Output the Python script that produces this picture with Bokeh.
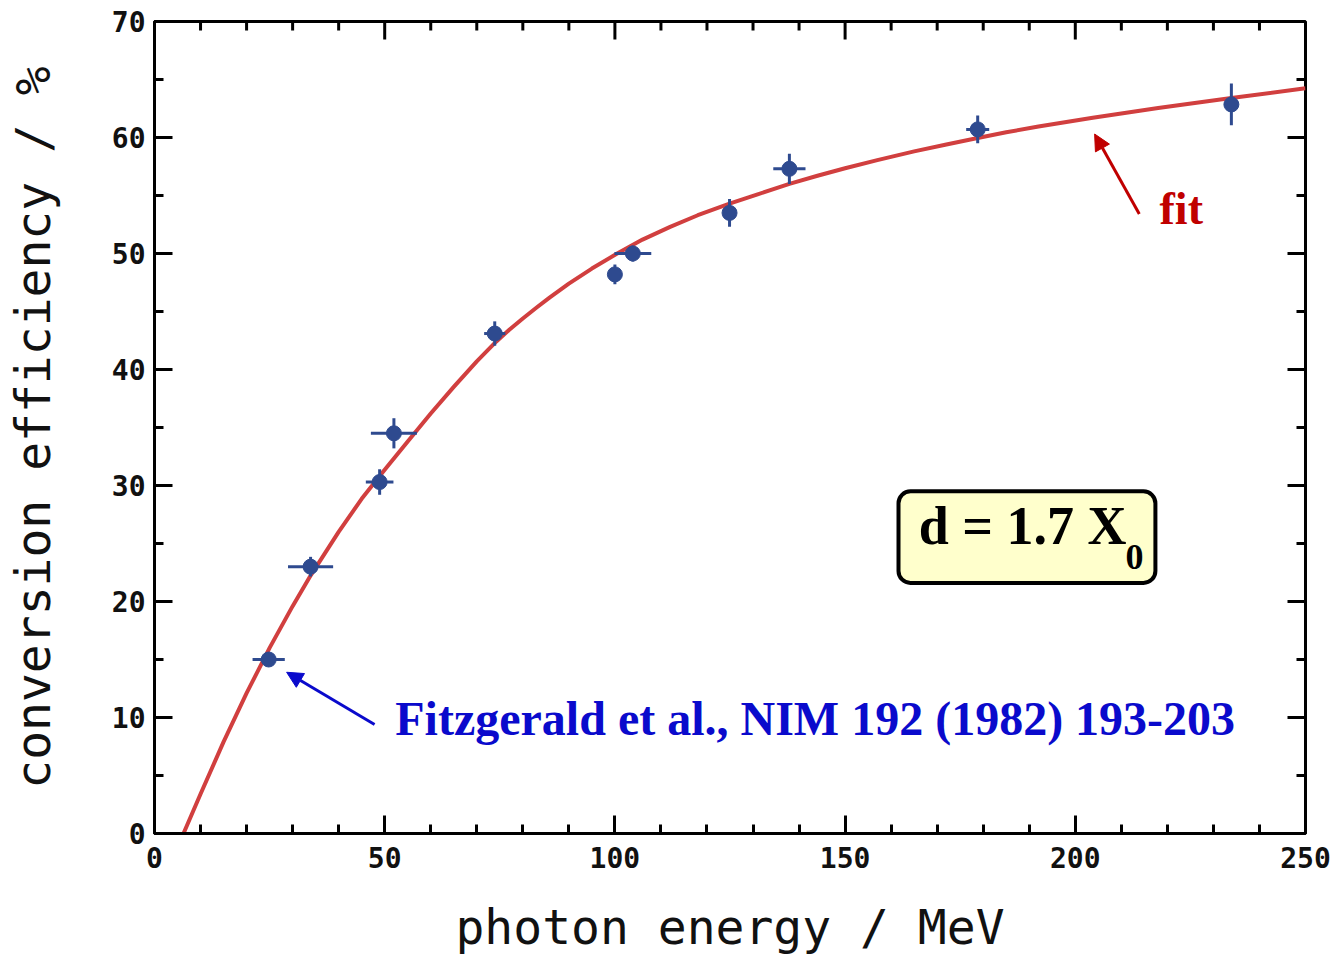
import math
from bokeh.plotting import figure
from bokeh.models import (Range1d, SingleIntervalTicker, Label, Arrow,
                          NormalHead, BoxAnnotation)
from bokeh.embed import file_html
from bokeh.resources import INLINE

# ---- data ----
energy = [24.8, 33.9, 48.9, 52.0, 73.9, 100.0, 103.9, 124.9, 137.9, 178.8, 233.9]
efficiency = [15.0, 23.0, 30.3, 34.5, 43.1, 48.2, 50.0, 53.5, 57.3, 60.7, 62.85]
energy_err = [3.5, 4.9, 3.0, 5.0, 2.3, 1.2, 4.0, 0.0, 3.5, 2.5, 1.5]
eff_err = [0.4, 0.85, 1.1, 1.3, 1.05, 0.85, 0.7, 1.2, 1.3, 1.2, 1.8]

fit_energy = [6.3, 10, 15, 20, 25, 30, 34, 40, 45, 50, 55, 60, 65, 70, 74.2, 77, 80, 83,
              85.8, 90, 95, 100.3, 106, 112, 118, 124.9, 131, 137.9, 144, 150, 157, 165,
              172, 178.8, 185, 192, 203.8, 218, 233.9, 250]
fit_eff = [0.0, 3.4, 7.9, 12.1, 16.0, 19.6, 22.3, 26.0, 28.85, 31.35, 33.8, 36.2, 38.5,
           40.7, 42.4, 43.4, 44.4, 45.35, 46.2, 47.4, 48.7, 49.95, 51.2, 52.3, 53.3,
           54.3, 55.1, 56.0, 56.7, 57.35, 58.05, 58.8, 59.4, 59.95, 60.45, 60.95, 61.7,
           62.55, 63.4, 64.25]

x_major_ticks = [0, 50, 100, 150, 200, 250]
x_minor_ticks = [10, 20, 30, 40, 60, 70, 80, 90, 110, 120, 130, 140,
                 160, 170, 180, 190, 210, 220, 230, 240]
y_major_ticks = [0, 10, 20, 30, 40, 50, 60, 70]
y_minor_ticks = [5, 15, 25, 35, 45, 55, 65]

X_MIN, X_MAX = 0, 250
Y_MIN, Y_MAX = 0, 70

POINT_COLOR = "#2E4A8F"
FIT_COLOR = "#D13F3F"
TICK_COLOR = "black"

p = figure(width=1332, height=957, x_range=Range1d(X_MIN, X_MAX), y_range=Range1d(Y_MIN, Y_MAX),
           output_backend="svg", toolbar_location=None,
           min_border_left=154, min_border_right=27, min_border_top=21, min_border_bottom=124)
p.background_fill_color = "white"
p.border_fill_color = "white"
p.xgrid.visible = False
p.ygrid.visible = False
p.outline_line_color = "black"
p.outline_line_width = 3

p.xaxis.ticker = SingleIntervalTicker(interval=50, num_minor_ticks=5)
p.yaxis.ticker = SingleIntervalTicker(interval=10, num_minor_ticks=2)

for ax in (p.xaxis[0], p.yaxis[0]):
    ax.axis_line_width = 3
    ax.axis_line_color = "black"
    ax.major_tick_line_width = 3
    ax.minor_tick_line_width = 3
    ax.major_tick_in = 18
    ax.major_tick_out = 0
    ax.minor_tick_in = 9
    ax.minor_tick_out = 0
    ax.major_label_text_font = "DejaVu Sans Mono"
    ax.major_label_text_font_style = "bold"
    ax.major_label_text_font_size = "28px"
    ax.major_label_text_color = "#111111"
    ax.axis_label_text_font = "DejaVu Sans Mono"
    ax.axis_label_text_font_style = "normal"
    ax.axis_label_text_font_size = "48px"
    ax.axis_label_text_color = "#111111"

p.xaxis.major_label_standoff = 13
p.yaxis.major_label_standoff = 9
p.xaxis.axis_label = "photon energy / MeV"
p.yaxis.axis_label = "conversion efficiency / %"
p.xaxis.axis_label_standoff = 28
p.yaxis.axis_label_standoff = 48

# mirrored ticks on the top and right frame edges (dash markers clipped by the frame)
p.scatter(x_major_ticks, [Y_MAX] * len(x_major_ticks), marker="dash", angle=math.pi / 2,
          size=36, line_color=TICK_COLOR, line_width=3)
p.scatter(x_minor_ticks, [Y_MAX] * len(x_minor_ticks), marker="dash", angle=math.pi / 2,
          size=18, line_color=TICK_COLOR, line_width=3)
p.scatter([X_MAX] * len(y_major_ticks), y_major_ticks, marker="dash",
          size=36, line_color=TICK_COLOR, line_width=3)
p.scatter([X_MAX] * len(y_minor_ticks), y_minor_ticks, marker="dash",
          size=18, line_color=TICK_COLOR, line_width=3)

# fit curve
p.line(fit_energy, fit_eff, line_color=FIT_COLOR, line_width=4, line_join="round")

# error bars
x0 = [e - d for e, d in zip(energy, energy_err)]
x1 = [e + d for e, d in zip(energy, energy_err)]
y0 = [v - d for v, d in zip(efficiency, eff_err)]
y1 = [v + d for v, d in zip(efficiency, eff_err)]
p.segment(x0, efficiency, x1, efficiency, line_color=POINT_COLOR, line_width=3)
p.segment(energy, y0, energy, y1, line_color=POINT_COLOR, line_width=3)
p.scatter(energy, efficiency, size=15, fill_color=POINT_COLOR, line_color=POINT_COLOR)

# annotations
box = BoxAnnotation(left=161.6, right=217.4, bottom=21.6, top=29.5,
                    fill_color="#FFFFCC", fill_alpha=1.0, line_color="black",
                    line_alpha=1.0, line_width=4, border_radius=12, level="overlay")
p.add_layout(box)
p.add_layout(Label(x=166.0, y=23.9, text="d = 1.7 X", text_font="Liberation Serif",
                   text_font_style="bold", text_font_size="54px", text_color="black",
                   level="overlay"))
p.add_layout(Label(x=210.9, y=22.8, text="0", text_font="Liberation Serif",
                   text_font_style="bold", text_font_size="36px", text_color="black",
                   level="overlay"))

p.add_layout(Label(x=218.3, y=51.7, text="fit", text_font="Liberation Serif",
                   text_font_style="bold", text_font_size="46px", text_color="#C00000"))
p.add_layout(Arrow(x_start=213.9, y_start=53.4, x_end=204.2, y_end=60.3,
                   line_color="#C00000", line_width=3,
                   end=NormalHead(size=16, fill_color="#C00000", line_color="#C00000")))

p.add_layout(Label(x=52.3, y=7.6, text="Fitzgerald et al., NIM 192 (1982) 193-203",
                   text_font="Liberation Serif", text_font_style="bold",
                   text_font_size="48px", text_color="#0A0ACC"))
p.add_layout(Arrow(x_start=47.8, y_start=9.4, x_end=28.7, y_end=13.9,
                   line_color="#0A0ACC", line_width=3,
                   end=NormalHead(size=16, fill_color="#0A0ACC", line_color="#0A0ACC")))

open("out.html", "w").write(file_html(p, INLINE))
